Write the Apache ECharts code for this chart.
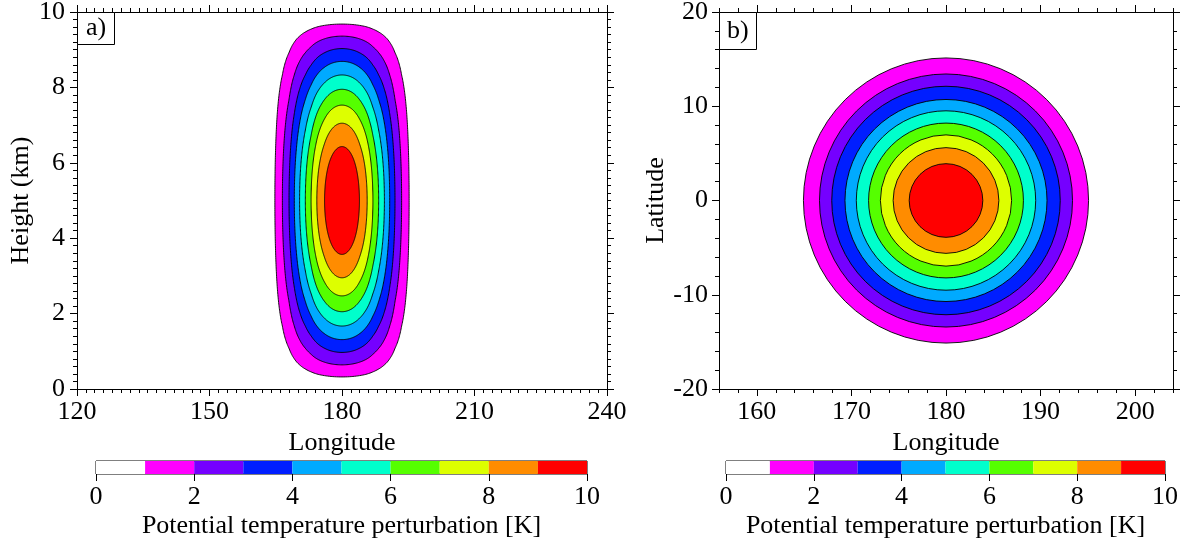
<!DOCTYPE html>
<html>
<head>
<meta charset="utf-8">
<script src="https://cdn.jsdelivr.net/npm/echarts@6/dist/echarts.min.js"></script>
<style>
html,body{margin:0;padding:0;background:#fff;}
#chart{width:1186px;height:544px;}
</style>
</head>
<body>
<div id="chart"></div>
<script>
// ---------------- data ----------------
const levels = [1, 2, 3, 4, 5, 6, 7, 8, 9];           // contour levels (K)
const peakValue = 10;                                  // maximum perturbation (K)
const binColors = ['#ffffff', '#ff00ff', '#7500ff', '#001eff', '#00aaff',
                   '#00ffcc', '#55ff00', '#ddff00', '#ff8c00', '#ff0000'];
const colorbarTicks = [0, 2, 4, 6, 8, 10];

// panel a) longitude-height section through the bubble centre
const centerLonA = 180;
const centerHeightA = 5;
const halfWidthA = [15.2, 13.5, 12.0, 10.8, 9.6, 8.3, 7.0, 5.7, 3.95];   // deg, at 5 km
const bottomHeightA = [0.32, 0.64, 0.97, 1.31, 1.67, 2.05, 2.47, 2.95, 3.57]; // km, at 180E

// panel b) horizontal section at bubble centre height
const centerLonB = 180;
const centerLatB = 0;
const radiusB = [15.1, 13.4, 12.1, 10.7, 9.5, 8.2, 6.95, 5.6, 3.9];     // deg

const lonTicksB = [160, 170, 180, 190, 200];

// ---------------- helpers ----------------
const FONT = "'Liberation Serif', 'DejaVu Serif', serif";
const txt = {fontFamily: FONT, fontSize: 26, color: '#000'};
const levelFrac = levels.map(l => l / peakValue);

function interpLen(x, xs, ys) {
  if (x <= xs[0]) return ys[0];
  for (let i = 0; i < xs.length - 1; i++) {
    if (x <= xs[i + 1]) {
      const f = (x - xs[i]) / (xs[i + 1] - xs[i]);
      const a = ys[i] * ys[i], b = ys[i + 1] * ys[i + 1];
      return Math.sqrt(Math.max(0, a + f * (b - a)));
    }
  }
  return ys[ys.length - 1];
}
const xsProfile = levelFrac.concat([1]);
const widthProfile = halfWidthA.concat([0]);
const depthProfile = bottomHeightA.map(z => centerHeightA - z).concat([0]);

function renderContourA(params, api) {
  const k = api.value(0);
  const v = levels[k] / peakValue;
  const N = 140;
  const quarter = [];
  for (let i = 0; i <= N; i++) {
    const t = v + (1 - v) * (1 - Math.cos(Math.PI * i / N)) / 2;
    quarter.push([interpLen(v / t, xsProfile, widthProfile), interpLen(t, xsProfile, depthProfile)]);
  }
  const pts = [];
  quarter.forEach(q => pts.push(api.coord([centerLonA + q[0], centerHeightA + q[1]])));
  quarter.slice().reverse().forEach(q => pts.push(api.coord([centerLonA + q[0], centerHeightA - q[1]])));
  quarter.forEach(q => pts.push(api.coord([centerLonA - q[0], centerHeightA - q[1]])));
  quarter.slice().reverse().forEach(q => pts.push(api.coord([centerLonA - q[0], centerHeightA + q[1]])));
  return {
    type: 'polygon',
    shape: {points: pts},
    style: {fill: binColors[levels[k]], stroke: '#000', lineWidth: 0.9}
  };
}

function renderContourB(params, api) {
  const k = api.value(0);
  const c = api.coord([centerLonB, centerLatB]);
  const sz = api.size([radiusB[k], radiusB[k]]);
  return {
    type: 'circle',
    shape: {cx: c[0], cy: c[1], r: (sz[0] + sz[1]) / 2},
    style: {fill: binColors[levels[k]], stroke: '#000', lineWidth: 0.9}
  };
}

function renderBin(params, api) {
  const k = api.value(0);
  const p0 = api.coord([k, 1]);
  const p1 = api.coord([k + 1, 0]);
  return {
    type: 'rect',
    shape: {x: p0[0], y: p0[1], width: p1[0] - p0[0], height: p1[1] - p0[1]},
    style: {fill: binColors[k], stroke: null}
  };
}

// ---------------- axes ----------------
const line = {show: true, onZero: false, lineStyle: {color: '#000', width: 1}};
const noLine = {show: false, onZero: false};
function tick(len) { return {show: true, inside: false, length: len, lineStyle: {color: '#000', width: 1}}; }
function minor(n) { return {show: true, splitNumber: n, length: 4, lineStyle: {color: '#000', width: 1}}; }
const noSplit = {show: false};
const labelOn = Object.assign({show: true, margin: 10, showMinLabel: true, showMaxLabel: true, hideOverlap: false}, txt);
const labelOff = {show: false};

const xAxes = [
  // 0: panel a bottom
  {gridIndex: 0, type: 'value', position: 'bottom', min: 120, max: 240, interval: 30,
   axisLine: line, axisTick: tick(7), minorTick: minor(15), splitLine: noSplit, minorSplitLine: noSplit,
   axisLabel: labelOn, name: 'Longitude', nameLocation: 'middle', nameGap: 36, nameTextStyle: txt},
  // 1: panel a top
  {gridIndex: 0, type: 'value', position: 'top', min: 120, max: 240, interval: 30,
   axisLine: line, axisTick: tick(7), minorTick: minor(15), splitLine: noSplit, axisLabel: labelOff},
  // 2: panel b bottom (minor ticks + labels)
  {gridIndex: 1, type: 'value', position: 'bottom', min: 156, max: 204, interval: 2,
   axisLine: line, axisTick: tick(4), splitLine: noSplit,
   axisLabel: Object.assign({}, labelOn, {customValues: lonTicksB}),
   name: 'Longitude', nameLocation: 'middle', nameGap: 36, nameTextStyle: txt},
  // 3: panel b bottom major ticks
  {gridIndex: 1, type: 'value', position: 'bottom', min: 156, max: 204, interval: 2,
   axisLine: noLine, axisTick: Object.assign(tick(7), {customValues: lonTicksB}), splitLine: noSplit, axisLabel: labelOff},
  // 4: panel b top minor
  {gridIndex: 1, type: 'value', position: 'top', min: 156, max: 204, interval: 2,
   axisLine: line, axisTick: tick(4), splitLine: noSplit, axisLabel: labelOff},
  // 5: panel b top major
  {gridIndex: 1, type: 'value', position: 'top', min: 156, max: 204, interval: 2,
   axisLine: noLine, axisTick: Object.assign(tick(7), {customValues: lonTicksB}), splitLine: noSplit, axisLabel: labelOff},
  // 6: colorbar a
  {gridIndex: 2, type: 'value', position: 'bottom', min: 0, max: 10, interval: 2,
   axisLine: noLine, axisTick: tick(7), splitLine: noSplit, axisLabel: labelOn,
   name: 'Potential temperature perturbation [K]', nameLocation: 'middle', nameGap: 39, nameTextStyle: txt},
  // 7: colorbar b
  {gridIndex: 3, type: 'value', position: 'bottom', min: 0, max: 10, interval: 2,
   axisLine: noLine, axisTick: tick(7), splitLine: noSplit, axisLabel: labelOn,
   name: 'Potential temperature perturbation [K]', nameLocation: 'middle', nameGap: 39, nameTextStyle: txt}
];

const yAxes = [
  {gridIndex: 0, type: 'value', position: 'left', min: 0, max: 10, interval: 2,
   axisLine: line, axisTick: tick(7), minorTick: minor(10), splitLine: noSplit,
   axisLabel: Object.assign({}, labelOn, {margin: 12}),
   name: 'Height (km)', nameLocation: 'middle', nameGap: 43, nameTextStyle: txt},
  {gridIndex: 0, type: 'value', position: 'right', min: 0, max: 10, interval: 2,
   axisLine: line, axisTick: tick(7), minorTick: minor(10), splitLine: noSplit, axisLabel: labelOff},
  {gridIndex: 1, type: 'value', position: 'left', min: -20, max: 20, interval: 10,
   axisLine: line, axisTick: tick(7), minorTick: minor(5), splitLine: noSplit,
   axisLabel: Object.assign({}, labelOn, {margin: 11}),
   name: 'Latitude', nameLocation: 'middle', nameGap: 45, nameTextStyle: txt},
  {gridIndex: 1, type: 'value', position: 'right', min: -20, max: 20, interval: 10,
   axisLine: line, axisTick: tick(7), minorTick: minor(5), splitLine: noSplit, axisLabel: labelOff},
  {gridIndex: 2, type: 'value', min: 0, max: 1, show: false},
  {gridIndex: 3, type: 'value', min: 0, max: 1, show: false}
];

const binIdx = binColors.map((c, i) => [i]);

const option = {
  animation: false,
  backgroundColor: '#fff',
  title: [
    {text: 'a)', left: 77, top: 12, borderColor: '#000', borderWidth: 1, padding: [3, 9, 4, 9],
     backgroundColor: '#fff', textStyle: Object.assign({fontWeight: 'normal', lineHeight: 26}, txt)},
    {text: 'b)', left: 719, top: 12, borderColor: '#000', borderWidth: 1, padding: [6, 8, 6, 8],
     backgroundColor: '#fff', textStyle: Object.assign({fontWeight: 'normal', lineHeight: 26}, txt)}
  ],
  grid: [
    {left: 77, top: 12, width: 530, height: 377, outerBoundsMode: 'none', containLabel: false},
    {left: 719, top: 12, width: 454, height: 377, outerBoundsMode: 'none', containLabel: false},
    {left: 96, top: 461, width: 491, height: 13, show: true, borderColor: '#000', borderWidth: 1,
     backgroundColor: 'transparent', outerBoundsMode: 'none', containLabel: false},
    {left: 726, top: 461, width: 439, height: 13, show: true, borderColor: '#000', borderWidth: 1,
     backgroundColor: 'transparent', outerBoundsMode: 'none', containLabel: false}
  ],
  xAxis: xAxes,
  yAxis: yAxes,
  series: [
    {type: 'custom', xAxisIndex: 0, yAxisIndex: 0, data: levels.map((l, i) => [i]),
     renderItem: renderContourA, silent: true, z: 1},
    {type: 'custom', xAxisIndex: 2, yAxisIndex: 2, data: levels.map((l, i) => [i]),
     renderItem: renderContourB, silent: true, z: 1},
    {type: 'custom', xAxisIndex: 6, yAxisIndex: 4, data: binIdx, renderItem: renderBin, silent: true, z: 1},
    {type: 'custom', xAxisIndex: 7, yAxisIndex: 5, data: binIdx, renderItem: renderBin, silent: true, z: 1}
  ]
};

const chart = echarts.init(document.getElementById('chart'), null, {renderer: 'canvas'});
chart.setOption(option);
</script>
</body>
</html>
